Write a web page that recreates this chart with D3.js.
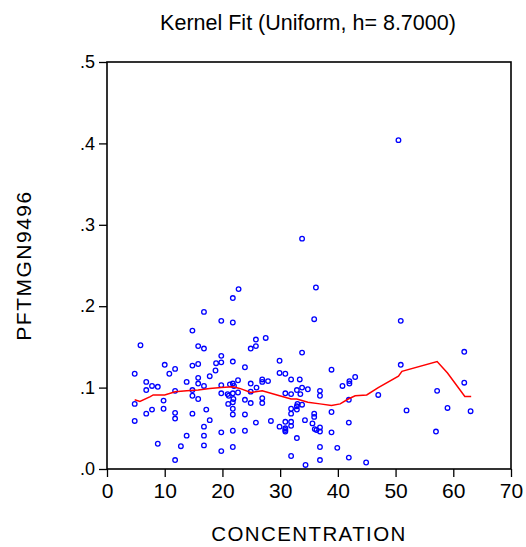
<!DOCTYPE html>
<html>
  <head>
    <meta charset="utf-8">
    <title>Kernel Fit</title>
    <script src="https://cdn.jsdelivr.net/npm/d3@7"></script>
    <style>
      body { margin: 0; background: #fff; }
      text { font-family: "Liberation Sans", Arial, sans-serif; fill: #000; }
    </style>
  </head>
  <body>
    <div id="grafica"></div>
    <script>
      // scatter: CONCENTRATION vs PFTMGN9496
      var concentration = [
        50.5, 33.8, 22.8, 21.8, 36.2, 16.8, 19.8, 21.8, 35.9, 50.9,
        14.8, 27.5, 25.8, 5.8, 15.8, 25.8, 16.8, 24.9, 61.9, 33.8,
        19.8, 29.9, 21.8, 19.8, 18.9, 15.8, 10.0, 50.9, 14.8, 23.9,
        11.8, 38.9, 18.8, 29.9, 4.8, 10.8, 30.9, 17.8, 43.0, 15.8,
        31.9, 33.4, 26.9, 22.7, 27.9, 42.0, 6.8, 13.8, 26.9, 61.9,
        15.8, 24.9, 42.0, 21.3, 21.8, 22.0, 19.8, 7.8, 16.8, 40.8,
        8.8, 25.9, 33.8, 34.8, 6.8, 14.8, 32.9, 11.8, 36.9, 57.2,
        24.9, 22.7, 19.8, 21.8, 30.9, 20.9, 31.9, 33.5, 47.0, 21.1,
        14.8, 36.9, 26.9, 21.9, 15.8, 23.9, 41.9, 9.8, 21.8, 26.9,
        24.9, 4.8, 21.0, 33.0, 33.8, 32.9, 59.0, 7.8, 9.8, 17.2,
        21.8, 31.9, 32.9, 51.9, 63.0, 38.9, 6.8, 11.8, 14.8, 31.9,
        35.9, 21.8, 23.9, 35.9, 11.8, 17.8, 34.3, 4.8, 28.4, 30.9,
        31.9, 25.8, 41.9, 35.6, 31.9, 16.8, 29.9, 36.9, 30.9, 36.0,
        30.9, 36.3, 21.8, 23.9, 30.9, 36.9, 57.0, 19.8, 38.9, 13.8,
        16.8, 32.9, 8.8, 16.8, 12.8, 21.8, 36.9, 39.9, 19.8, 31.9,
        41.9, 11.8, 36.9, 34.4, 44.9
      ];
      var pftmgn = [
        0.404, 0.283, 0.221, 0.210, 0.223, 0.193, 0.182, 0.180, 0.184, 0.182,
        0.170, 0.161, 0.159, 0.152, 0.151, 0.151, 0.148, 0.148, 0.144, 0.143,
        0.139, 0.133, 0.132, 0.131, 0.130, 0.129, 0.128, 0.128, 0.127, 0.125,
        0.123, 0.122, 0.121, 0.118, 0.117, 0.117, 0.117, 0.114, 0.113, 0.112,
        0.110, 0.110, 0.110, 0.109, 0.108, 0.108, 0.107, 0.107, 0.107, 0.106,
        0.105, 0.105, 0.105, 0.104, 0.105, 0.102, 0.103, 0.102, 0.102, 0.102,
        0.101, 0.100, 0.100, 0.098, 0.097, 0.097, 0.097, 0.096, 0.096, 0.096,
        0.095, 0.094, 0.093, 0.093, 0.093, 0.092, 0.092, 0.092, 0.091, 0.090,
        0.090, 0.090, 0.087, 0.086, 0.086, 0.085, 0.085, 0.084, 0.082, 0.081,
        0.081, 0.080, 0.080, 0.080, 0.079, 0.077, 0.075, 0.073, 0.074, 0.073,
        0.074, 0.074, 0.073, 0.072, 0.071, 0.070, 0.068, 0.069, 0.068, 0.068,
        0.068, 0.067, 0.067, 0.064, 0.062, 0.060, 0.060, 0.059, 0.059, 0.058,
        0.058, 0.057, 0.057, 0.056, 0.053, 0.052, 0.052, 0.051, 0.050, 0.049,
        0.048, 0.048, 0.047, 0.047, 0.046, 0.046, 0.046, 0.045, 0.045, 0.041,
        0.041, 0.038, 0.031, 0.029, 0.028, 0.027, 0.027, 0.026, 0.022, 0.016,
        0.014, 0.011, 0.011, 0.005, 0.008
      ];

      // kernel fit curve
      var fitX = [4.8, 5.7, 7.5, 8.0, 10.0, 11.8, 13.8, 15.8, 17.8, 19.8, 21.8, 23.0,
                  24.9, 26.9, 29.9, 31.9, 32.9, 34.8, 36.9, 38.9, 40.4, 41.8, 43.0,
                  45.0, 47.0, 50.5, 51.1, 57.2, 59.0, 62.0, 63.1];
      var fitY = [0.085, 0.083, 0.089, 0.091, 0.091, 0.095, 0.096, 0.097, 0.099, 0.100, 0.101, 0.099,
                  0.094, 0.096, 0.090, 0.086, 0.086, 0.082, 0.080, 0.078, 0.080, 0.086, 0.090,
                  0.091, 0.100, 0.114, 0.120, 0.132, 0.118, 0.089, 0.089];

      var xTicks = [0, 10, 20, 30, 40, 50, 60, 70];
      var yTicks = [0, 0.1, 0.2, 0.3, 0.4, 0.5];

      var W = 526, H = 547;
      var margin = {top: 62, right: 15, bottom: 78, left: 107},
          width = W - margin.left - margin.right,
          height = H - margin.top - margin.bottom;

      var svg = d3.select("#grafica").append("svg")
          .attr("width", W)
          .attr("height", H);

      var g = svg.append("g")
          .attr("transform", "translate(" + margin.left + "," + margin.top + ")");

      var x = d3.scaleLinear().domain([0, 70]).range([0, width]);
      var y = d3.scaleLinear().domain([0, 0.5]).range([height, 0]);

      var fmtY = function(d) { return d3.format(".1f")(d).replace(/^0/, ""); };

      // axes
      var xAxis = g.append("g")
          .attr("transform", "translate(0," + height + ")")
          .call(d3.axisBottom(x).tickValues(xTicks).tickSize(8).tickPadding(6).tickSizeOuter(0));
      xAxis.selectAll("text").style("font-size", "21px");

      var yAxis = g.append("g")
          .call(d3.axisLeft(y).tickValues(yTicks).tickFormat(fmtY).tickSize(8).tickPadding(4).tickSizeOuter(0));
      yAxis.selectAll("text").style("font-size", "18px");

      g.selectAll(".domain").remove();
      g.selectAll(".tick line").attr("stroke", "#000").attr("stroke-width", 1.3);

      // frame
      g.append("rect")
          .attr("x", 0).attr("y", 0)
          .attr("width", width).attr("height", height)
          .attr("fill", "none")
          .attr("stroke", "#000")
          .attr("stroke-width", 1.6);

      // points
      g.selectAll(".pt")
          .data(concentration)
          .enter().append("circle")
          .attr("class", "pt")
          .attr("cx", function(d) { return x(d); })
          .attr("cy", function(d, i) { return y(pftmgn[i]); })
          .attr("r", 2.3)
          .attr("fill", "none")
          .attr("stroke", "#0000ff")
          .attr("stroke-width", 1.3);

      // kernel fit
      var line = d3.line()
          .x(function(d) { return x(d); })
          .y(function(d, i) { return y(fitY[i]); });

      g.append("path")
          .datum(fitX)
          .attr("d", line)
          .attr("fill", "none")
          .attr("stroke", "#ff0000")
          .attr("stroke-width", 1.5);

      // titles
      svg.append("text")
          .attr("x", margin.left + width / 2 - 1)
          .attr("y", 30)
          .attr("text-anchor", "middle")
          .style("font-size", "21.5px")
          .text("Kernel Fit (Uniform, h= 8.7000)");

      svg.append("text")
          .attr("x", margin.left + width / 2)
          .attr("y", 541)
          .attr("text-anchor", "middle")
          .style("font-size", "20.5px")
          .style("letter-spacing", "1.4px")
          .text("CONCENTRATION");

      svg.append("text")
          .attr("transform", "translate(31," + (margin.top + height / 2) + ") rotate(-90)")
          .attr("text-anchor", "middle")
          .style("font-size", "21px")
          .style("letter-spacing", "1.5px")
          .text("PFTMGN9496");
    </script>
  </body>
</html>
